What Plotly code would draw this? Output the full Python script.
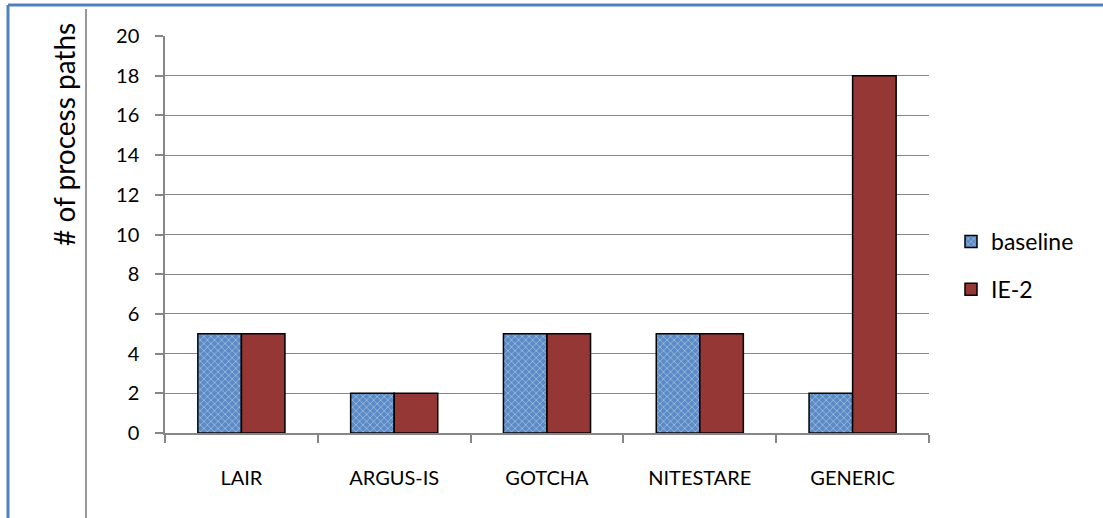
import plotly.graph_objects as go

categories = ["LAIR", "ARGUS-IS", "GOTCHA", "NITESTARE", "GENERIC"]
baseline = [5, 2, 5, 5, 2]
ie2 = [5, 2, 5, 5, 18]
y_ticks = [0, 2, 4, 6, 8, 10, 12, 14, 16, 18, 20]

W, H = 1103, 518
L, R, T, B = 165, 174, 36, 85
pw, ph = W - L - R, H - T - B

def px_x(x):
    return (x - L) / pw

def px_y(y):
    return 1 - (y - T) / ph

fig = go.Figure()
fig.add_trace(go.Bar(
    x=categories, y=baseline, name="baseline",
    marker=dict(color="#4F81BD",
                line=dict(color="black", width=1.5),
                pattern=dict(shape="x", bgcolor="#5B8BC6", fgcolor="#E4ECF6",
                             fillmode="overlay", size=5, solidity=0.3)),
    legendgroup="a",
))
fig.add_trace(go.Bar(
    x=categories, y=ie2, name="IE-2",
    marker=dict(color="#953735", line=dict(color="black", width=1.5)),
    legendgroup="b",
))

font_family = "Lato, 'Open Sans', sans-serif"

fig.update_layout(
    width=W, height=H,
    margin=dict(l=L, r=R, t=T, b=B),
    plot_bgcolor="white", paper_bgcolor="white",
    barmode="group", bargap=0.43, bargroupgap=0,
    font=dict(family=font_family, size=20, color="black"),
    legend=dict(x=px_x(951), y=px_y(220), xanchor="left", yanchor="top",
                font=dict(size=23), tracegroupgap=15, traceorder="grouped",
                bgcolor="rgba(0,0,0,0)"),
    showlegend=True,
)
fig.update_xaxes(
    type="category", showgrid=False, showline=True, linecolor="#868686", linewidth=1.5,
    ticks="outside", tickson="boundaries", ticklen=8, tickcolor="#868686", tickwidth=1.5,
    ticklabelstandoff=26, tickfont=dict(size=20),
)
fig.update_yaxes(
    range=[0, 20], tickvals=y_ticks, showgrid=True, gridcolor="#868686", gridwidth=1.2,
    showline=True, linecolor="#868686", linewidth=1.5, zeroline=False,
    ticks="outside", ticklen=8, tickcolor="#868686", tickwidth=1.5,
    ticklabelstandoff=12, tickfont=dict(size=20),
)

fig.add_annotation(
    text="# of process paths", xref="paper", yref="paper",
    x=px_x(64), y=px_y(135), textangle=-90, showarrow=False,
    font=dict(size=28, family=font_family), xanchor="center", yanchor="middle",
)

# frame lines
fig.add_shape(type="line", xref="paper", yref="paper",
              x0=px_x(8), x1=px_x(1103), y0=px_y(5), y1=px_y(5),
              line=dict(color="#4F81BD", width=3))
fig.add_shape(type="line", xref="paper", yref="paper",
              x0=px_x(8), x1=px_x(8), y0=px_y(5), y1=px_y(518),
              line=dict(color="#4F81BD", width=3))
fig.add_shape(type="line", xref="paper", yref="paper",
              x0=px_x(86), x1=px_x(86), y0=px_y(9), y1=px_y(518),
              line=dict(color="#999999", width=2))

fig.write_html("out.html", config={"displayModeBar": False},
               post_script="document.body.style.margin='0';document.body.style.overflow='hidden';")
